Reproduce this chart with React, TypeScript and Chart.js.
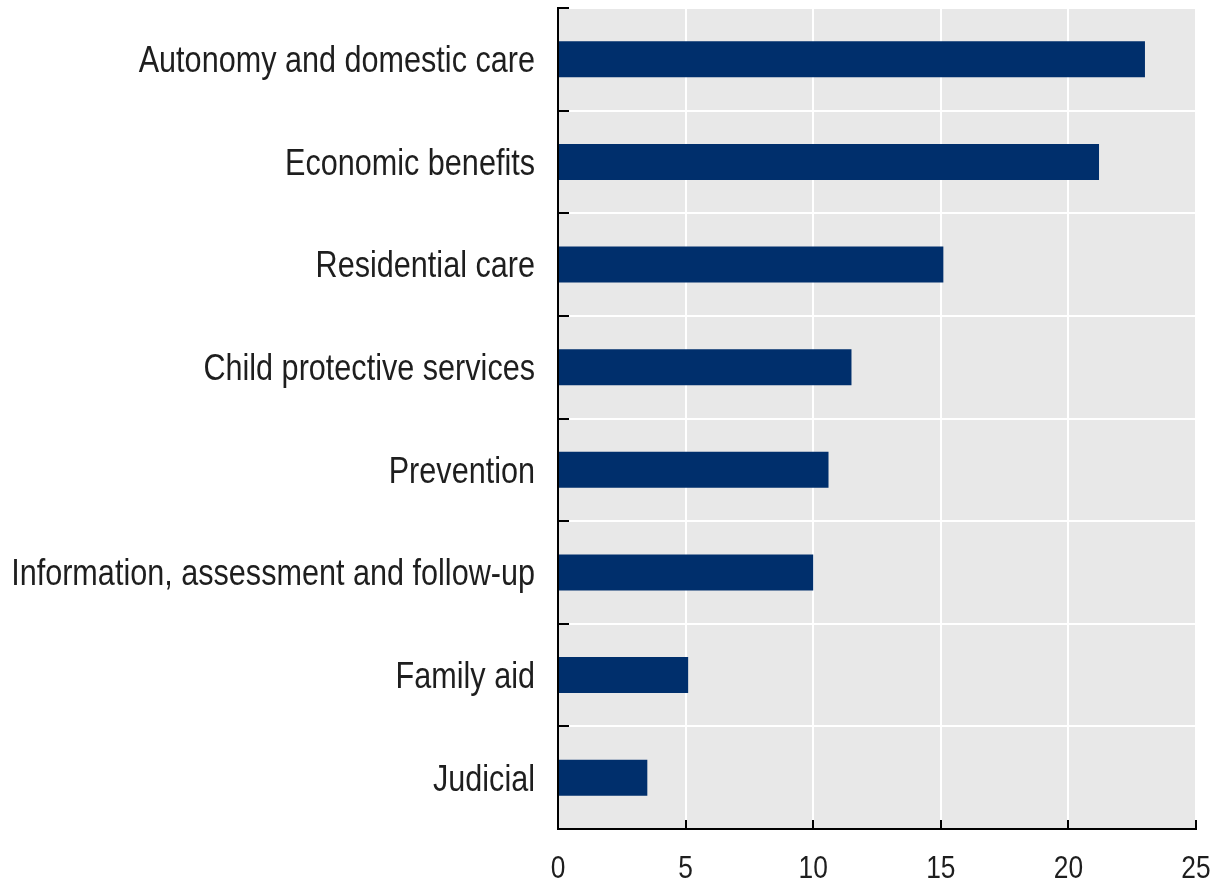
import React, { useEffect, useRef } from "react";
import { Chart, registerables } from "chart.js";

Chart.register(...registerables);

const categories = [
  "Autonomy and domestic care",
  "Economic benefits",
  "Residential care",
  "Child protective services",
  "Prevention",
  "Information, assessment and follow-up",
  "Family aid",
  "Judicial",
];
const values = [23.0, 21.2, 15.1, 11.5, 10.6, 10.0, 5.1, 3.5];
const xTicks = [0, 5, 10, 15, 20, 25];

const FONT = '"Liberation Sans", Arial, sans-serif';
const FONT_SIZE = 36;
const TICK_FONT_SIZE = 31;
const NARROW = 0.85;
const TEXT_COLOR = "#1e1e1e";

function narrowText(ctx: any, text: string, x: number, y: number, align: "right" | "center") {
  ctx.save();
  ctx.translate(x, y);
  ctx.scale(NARROW, 1);
  ctx.textAlign = align;
  ctx.textBaseline = "alphabetic";
  ctx.fillText(text, 0, 0);
  ctx.restore();
}

const bgPlugin = {
  id: "bgPlugin",
  beforeDraw(chart: any) {
    const { ctx, chartArea } = chart;
    ctx.save();
    ctx.fillStyle = "#e8e8e8";
    ctx.fillRect(chartArea.left, chartArea.top, chartArea.right - chartArea.left, chartArea.bottom - chartArea.top);
    ctx.restore();
  },
  afterDraw(chart: any) {
    const { ctx, chartArea } = chart;
    const y = chart.scales.y;
    const x = chart.scales.x;
    ctx.save();
    // inward tick marks
    ctx.strokeStyle = "#000";
    ctx.lineWidth = 2;
    ctx.beginPath();
    for (let i = 0; i < categories.length; i++) {
      const py = Math.round(y.getPixelForValue(i - 0.5));
      ctx.moveTo(chartArea.left, py);
      ctx.lineTo(chartArea.left + 11, py);
    }
    for (let i = 1; i < xTicks.length; i++) {
      const px = Math.round(x.getPixelForValue(xTicks[i]));
      ctx.moveTo(px, chartArea.bottom);
      ctx.lineTo(px, chartArea.bottom - 9);
    }
    ctx.stroke();
    // labels
    ctx.fillStyle = TEXT_COLOR;
    ctx.font = `${FONT_SIZE}px ${FONT}`;
    const capHalf = FONT_SIZE * 0.716 / 2;
    categories.forEach((c, i) => {
      const py = y.getPixelForValue(i);
      narrowText(ctx, c, chartArea.left - 23, py + capHalf, "right");
    });
    ctx.font = `${TICK_FONT_SIZE}px ${FONT}`;
    xTicks.forEach((t) => {
      const px = x.getPixelForValue(t);
      narrowText(ctx, String(t), px, chartArea.bottom + 49, "center");
    });
    ctx.restore();
  },
};

export default function App() {
  const ref = useRef<HTMLCanvasElement>(null);
  useEffect(() => {
    document.body.style.margin = "0";
    const chart = new Chart(ref.current!, {
      type: "bar",
      data: {
        labels: categories,
        datasets: [
          {
            data: values,
            backgroundColor: "#002f6c",
            barPercentage: 0.35,
            categoryPercentage: 1,
          },
        ],
      },
      options: {
        indexAxis: "y",
        animation: false,
        responsive: false,
        maintainAspectRatio: false,
        layout: { padding: { top: 8, right: 16, left: 0, bottom: 0 } },
        plugins: { legend: { display: false }, tooltip: { enabled: false } },
        scales: {
          x: {
            min: 0,
            max: 25,
            ticks: { stepSize: 5, display: false },
            grid: { color: "#ffffff", lineWidth: 2, drawTicks: false },
            border: { display: true, color: "#000", width: 2 },
            afterFit(scale: any) {
              scale.height = 49;
              scale.paddingLeft = 0;
              scale.paddingRight = 0;
              scale.paddingTop = 0;
              scale.paddingBottom = 0;
            },
          },
          y: {
            grid: { offset: true, color: "#ffffff", lineWidth: 2, drawTicks: false },
            border: { display: true, color: "#000", width: 2 },
            ticks: { display: false },
            afterFit(scale: any) {
              scale.width = 558;
              scale.paddingLeft = 0;
              scale.paddingRight = 0;
              scale.paddingTop = 0;
              scale.paddingBottom = 0;
            },
          },
        },
      },
      plugins: [bgPlugin],
    });
    return () => chart.destroy();
  }, []);
  return (
    <div style={{ position: "absolute", left: 0, top: 0, width: 1212, height: 878 }}>
      <canvas ref={ref} width={1212} height={878} />
    </div>
  );
}
